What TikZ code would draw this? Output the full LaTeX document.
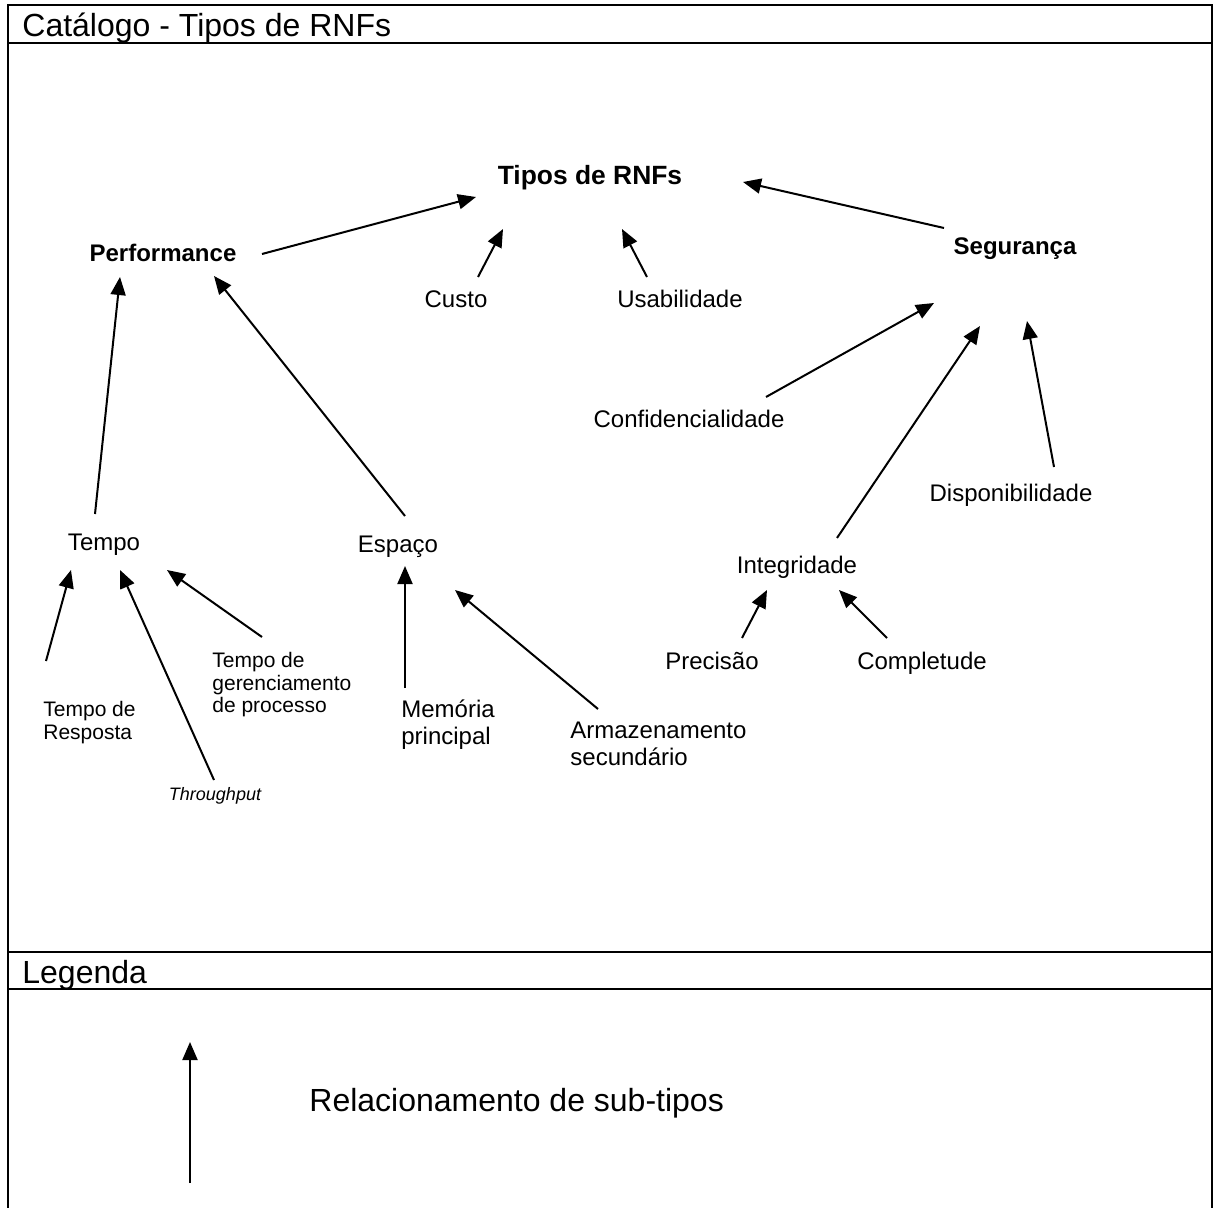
\documentclass[tikz,border=0pt]{standalone}
\usepackage{fontspec}
\setmainfont{Liberation Sans}
\usetikzlibrary{arrows.meta,calc}
\begin{document}
\begin{tikzpicture}[x=0.5pt,y=-0.5pt,
  frame/.style={line width=1.1pt,line cap=rect},
  sub/.style={line width=1pt,-{Triangle[length=9pt,width=7.5pt]}},
  lbl/.style={inner sep=0pt,anchor=base,font=\fontsize{12}{13.5}\selectfont},
  head/.style={inner sep=0pt,anchor=base,font=\bfseries\fontsize{12}{14}\selectfont},
  root/.style={inner sep=0pt,anchor=base,font=\bfseries\fontsize{13.2}{15}\selectfont},
  multi/.style={inner sep=0pt,anchor=west,align=left,font=\fontsize{12}{13.5}\selectfont},
  small/.style={inner sep=0pt,anchor=west,align=left,font=\fontsize{10.5}{11.25}\selectfont},
  caption/.style={inner sep=0pt,anchor=base west,font=\fontsize{16}{18}\selectfont}]
\useasboundingbox (0,0) rectangle (1215,1208);

% frame of the catalogue sheet
\draw[frame] (8,1208) -- (8,5) -- (1212,5) -- (1212,1208);
\draw[frame] (8,43) -- (1212,43);
\draw[frame] (8,952) -- (1212,952);
\draw[frame] (8,989) -- (1212,989);

% section titles
\node[caption] (title) at (22,37) {Catálogo - Tipos de RNFs};
\node[caption] (legenda) at (22,983) {Legenda};

% types
\node[root] (tipos) at (590,185) {Tipos de RNFs};
\node[head] (perf) at (163,262) {Performance};
\node[head] (seg) at (1015,255) {Segurança};
\node[lbl] (custo) at (456,308) {Custo};
\node[lbl] (usab) at (680,308) {Usabilidade};
\node[lbl] (conf) at (689,428) {Confidencialidade};
\node[lbl] (disp) at (1011,501) {Disponibilidade};
\node[lbl] (tempo) at (104,550) {Tempo};
\node[lbl] (espaco) at (398,552) {Espaço};
\node[lbl] (integ) at (797,573) {Integridade};
\node[lbl] (prec) at (712,669) {Precisão};
\node[lbl] (compl) at (922,669) {Completude};
\node[small] (resp) at (43,722.5) {Tempo de\\Resposta};
\node[small] (gerenc) at (212,685) {Tempo de\\gerenciamento\\de processo};
\node[inner sep=0pt,anchor=base,font=\itshape\fontsize{9}{10}\selectfont] (through) at (215,800) {Throughput};
\node[multi] (mem) at (401,725) {Memória\\principal};
\node[multi] (armaz) at (570,744) {Armazenamento\\secundário};

% sub-type relations
\draw[sub] ($(perf.base)+(99,-8)$) -- ($(tipos.base)+(-114,12)$);
\draw[sub] ($(custo.base)+(22,-31)$) -- ($(tipos.base)+(-87,44)$);
\draw[sub] ($(usab.base)+(-33,-31)$) -- ($(tipos.base)+(32,44)$);
\draw[sub] ($(seg.base)+(-71,-27)$) -- ($(tipos.base)+(153,-3)$);
\draw[sub] ($(conf.base)+(77,-31)$) -- ($(seg.base)+(-81,48)$);
\draw[sub] ($(integ.base)+(40,-35)$) -- ($(seg.base)+(-35,71)$);
\draw[sub] ($(disp.base)+(43,-34)$) -- ($(seg.base)+(12,66)$);
\draw[sub] ($(tempo.base)+(-9,-36)$) -- ($(perf.base)+(-43,15)$);
\draw[sub] ($(espaco.base)+(7,-36)$) -- ($(perf.base)+(51,14)$);
\draw[sub] ($(resp.west)+(3,-61.5)$) -- ($(tempo.base)+(-33,20)$);
\draw[sub] ($(through.base)+(-1,-20)$) -- ($(tempo.base)+(16,20)$);
\draw[sub] ($(gerenc.west)+(50,-48)$) -- ($(tempo.base)+(63,20)$);
\draw[sub] ($(mem.west)+(4,-37)$) -- ($(espaco.base)+(7,14)$);
\draw[sub] ($(armaz.west)+(28,-35)$) -- ($(espaco.base)+(57,38)$);
\draw[sub] ($(prec.base)+(30,-31)$) -- ($(integ.base)+(-30,17)$);
\draw[sub] ($(compl.base)+(-35,-31)$) -- ($(integ.base)+(42,17)$);

% legend
\coordinate (legtail) at (190,1183);
\coordinate (leghead) at (190,1042);
\draw[sub] (legtail) -- (leghead);
\node[caption] (relac) at (309,1111) {Relacionamento de sub-tipos};
\end{tikzpicture}
\end{document}
